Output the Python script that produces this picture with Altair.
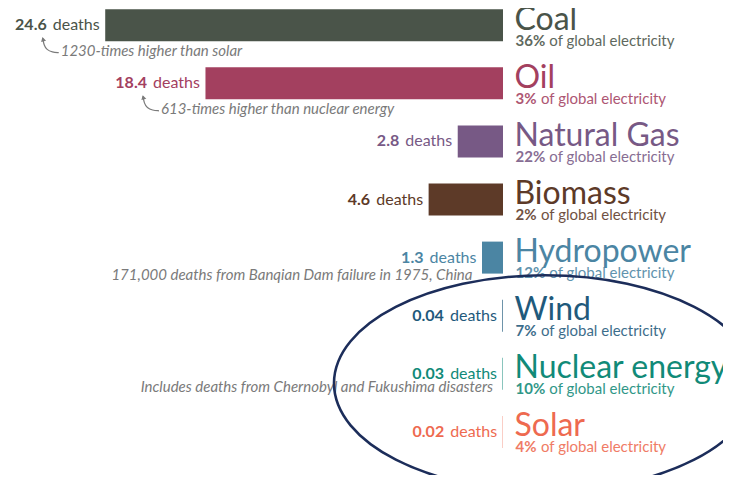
import altair as alt
import pandas as pd

# ---------------- data ----------------
sources = ["Coal", "Oil", "Natural Gas", "Biomass", "Hydropower", "Wind", "Nuclear energy", "Solar"]
deaths = [24.6, 18.4, 2.8, 4.6, 1.3, 0.04, 0.03, 0.02]
death_labels = ["24.6", "18.4", "2.8", "4.6", "1.3", "0.04", "0.03", "0.02"]
share_labels = ["36%", "3%", "22%", "2%", "12%", "7%", "10%", "4%"]
colors = ["#4a5449", "#a3405f", "#775985", "#5d3a28", "#4b85a3", "#1f5a7c", "#118a78", "#ee6a50"]

ann_sources = ["Coal", "Oil"]
ann_texts = ["1230-times higher than solar", "613-times higher than nuclear energy"]

note_sources = ["Hydropower", "Nuclear energy"]
note_texts = ["171,000 deaths from Banqian Dam failure in 1975, China",
              "Includes deaths from Chernobyl and Fukushima disasters"]

# ---------------- layout constants ----------------
W, H = 715, 467
PX_X = 16.17          # pixels per death unit
ZERO_X = 495          # plot x of zero
ROW_PX = 58.1         # pixels per row
ROW0_Y = 17.2         # plot y of first row centre
BAR_HALF = 16 / ROW_PX
FONT = "Lato"
GRAY = "#7a7a7a"

x_dom = [-(W - ZERO_X) / PX_X, ZERO_X / PX_X]
y_dom = [-ROW0_Y / ROW_PX, (H - ROW0_Y) / ROW_PX]

xs = alt.Scale(domain=x_dom, reverse=True, nice=False, zero=False)
ys = alt.Scale(domain=y_dom, reverse=True, nice=False, zero=False)
cs = alt.Scale(domain=sources, range=colors)

df = pd.DataFrame({
    "source": sources,
    "deaths": deaths,
    "label": death_labels,
    "share": share_labels,
})
df["row"] = range(len(sources))
df["zero"] = 0.0
df["top"] = df["row"] - BAR_HALF
df["bot"] = df["row"] + BAR_HALF
df["nchar"] = df["share"].str.len()

row_of = dict(zip(sources, range(len(sources))))
val_of = dict(zip(sources, deaths))

X = lambda f: alt.X(f"{f}:Q", scale=xs, axis=None)
Y = lambda f: alt.Y(f"{f}:Q", scale=ys, axis=None)
C = alt.Color("source:N", scale=cs, legend=None)

base = alt.Chart(df)

bars = base.mark_rect().encode(x=X("deaths"), x2="zero:Q", y=Y("top"), y2="bot:Q", color=C)

num = base.mark_text(align="right", baseline="middle", dx=-58.5, font=FONT, fontSize=16,
                     fontWeight="bold").encode(x=X("deaths"), y=Y("row"), text="label:N", color=C)
dth = base.mark_text(align="right", baseline="middle", dx=-5.5, font=FONT, fontSize=16).encode(
    x=X("deaths"), y=Y("row"), text=alt.value("deaths"), color=C)

name = base.mark_text(align="left", baseline="alphabetic", dx=11.5, dy=4.5, font=FONT, fontSize=32).encode(
    x=X("zero"), y=Y("row"), text="source:N", color=C)

sub_b = base.mark_text(align="left", baseline="alphabetic", dx=12.5, dy=20.5, font=FONT, fontSize=15,
                       fontWeight="bold", opacity=0.88).encode(
    x=X("zero"), y=Y("row"), text="share:N", color=C)
sub_r1 = base.transform_filter(alt.datum.nchar == 2).mark_text(
    align="left", baseline="alphabetic", dx=38, dy=20.5, font=FONT, fontSize=15, opacity=0.88).encode(
    x=X("zero"), y=Y("row"), text=alt.value("of global electricity"), color=C)
sub_r2 = base.transform_filter(alt.datum.nchar == 3).mark_text(
    align="left", baseline="alphabetic", dx=46.3, dy=20.5, font=FONT, fontSize=15, opacity=0.88).encode(
    x=X("zero"), y=Y("row"), text=alt.value("of global electricity"), color=C)

# annotations with arrows (Coal, Oil)
ann_df = pd.DataFrame({
    "text": ann_texts,
    "v": [val_of[s] for s in ann_sources],
    "r": [row_of[s] + 31 / ROW_PX for s in ann_sources],
})
ann = alt.Chart(ann_df).mark_text(align="left", baseline="alphabetic", dx=-44.5, font=FONT, fontSize=15,
                                  fontStyle="italic", color=GRAY).encode(x=X("v"), y=Y("r"), text="text:N")

arrow_tpl = [(-62.5, 13), (-61.3, 20), (-58.5, 24.5), (-53, 27), (-46.5, 27.5)]
arr_rows = []
for i, s in enumerate(ann_sources):
    for k, (ox, oy) in enumerate(arrow_tpl):
        arr_rows.append({"id": i, "k": k, "v": val_of[s] - ox / PX_X, "r": row_of[s] + oy / ROW_PX})
arr_df = pd.DataFrame(arr_rows)
arrows = alt.Chart(arr_df).mark_line(interpolate="basis", color=GRAY, strokeWidth=1.2).encode(
    x=X("v"), y=Y("r"), detail="id:N", order="k:Q")
head_df = pd.DataFrame({
    "v": [val_of[s] + 62.2 / PX_X for s in ann_sources],
    "r": [row_of[s] + 14 / ROW_PX for s in ann_sources],
})
heads = alt.Chart(head_df).mark_point(shape="triangle-up", filled=True, size=26, angle=345,
                                      color=GRAY, opacity=1).encode(x=X("v"), y=Y("r"))

# notes (Hydropower, Nuclear)
note_dy = [22, 18]
note_df = pd.DataFrame({
    "text": note_texts,
    "v": [val_of[s] for s in note_sources],
    "r": [row_of[s] + d / ROW_PX for s, d in zip(note_sources, note_dy)],
})
notes = alt.Chart(note_df).mark_text(align="right", baseline="alphabetic", dx=-9.5, font=FONT, fontSize=15,
                                     fontStyle="italic", color=GRAY).encode(x=X("v"), y=Y("r"), text="text:N")

# highlight ellipse around the low-death sources
ell_rx, ell_ry = 211, 108
ell_df = pd.DataFrame({"v": [-(537 - ZERO_X) / PX_X], "r": [row_of["Nuclear energy"] + 9.5 / ROW_PX]})
ellipse = alt.Chart(ell_df).mark_point(
    shape=f"M-1,0A1,{ell_ry / ell_rx:.4f} 0 1,1 1,0A1,{ell_ry / ell_rx:.4f} 0 1,1 -1,0Z",
    size=(2 * ell_rx) ** 2, filled=False, strokeWidth=2.6, color="#1c2d5a", opacity=1,
).encode(x=X("v"), y=Y("r"))

chart = alt.layer(bars, num, dth, name, sub_b, sub_r1, sub_r2, ann, arrows, heads, notes, ellipse).properties(
    width=W, height=H, padding=0, autosize=alt.AutoSizeParams(type="none"), background="white"
).configure_view(stroke=None)

chart.save("out.html", embed_options={"renderer": "svg", "actions": False})
